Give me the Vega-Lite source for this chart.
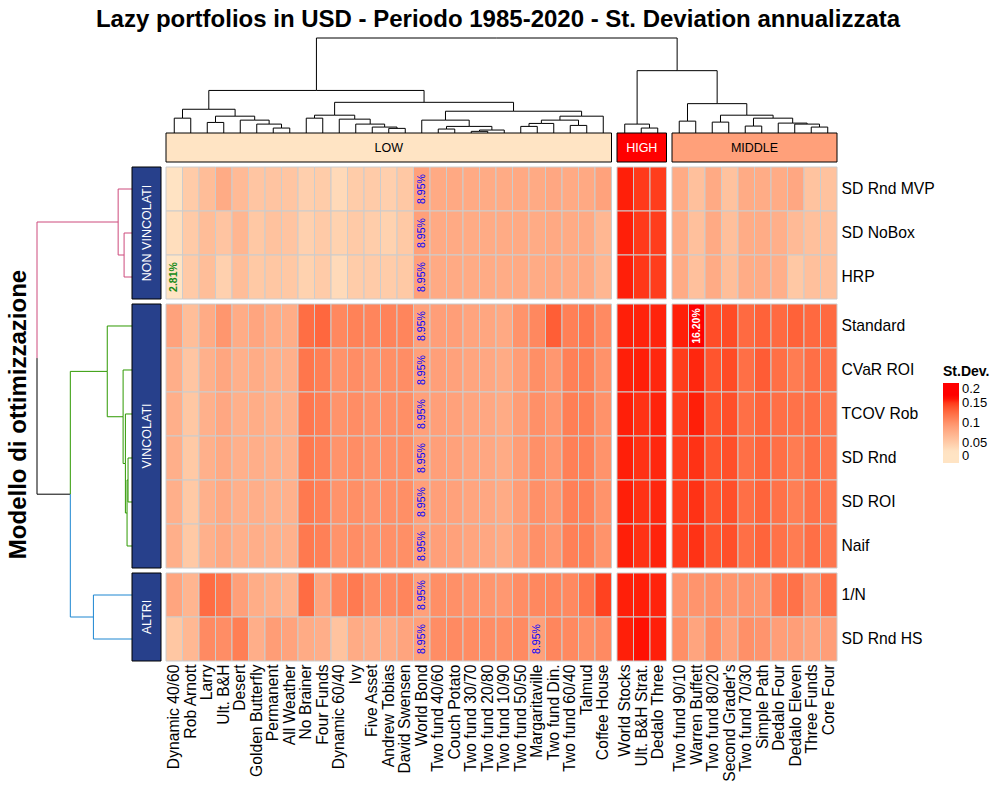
{
"$schema": "https://vega.github.io/schema/vega-lite/v6.json",
"background": "white",
"padding": {"left": 6, "top": 7, "right": 5, "bottom": 5},
"title": {"text": "Lazy portfolios in USD - Periodo 1985-2020 - St. Deviation annualizzata", "font": "Liberation Sans", "fontSize": 24, "fontWeight": "bold", "color": "#000000", "anchor": "middle", "offset": 6},
"config": {"view": {"stroke": null}, "font": "Liberation Sans"},
"datasets": {
"top": [
{"x":0.5,"h":0,"px":1.0,"ph":45},{"x":1.5,"h":0,"px":1.0,"ph":45},{"x":2.5,"h":0,"px":3.0,"ph":32},{"x":3.5,"h":0,"px":3.0,"ph":32},
{"x":4.5,"h":0,"px":5.375,"ph":39},{"x":5.5,"h":0,"px":6.25,"ph":27},{"x":6.5,"h":0,"px":7.0,"ph":15},{"x":7.5,"h":0,"px":7.0,"ph":15},
{"x":8.5,"h":0,"px":9.0,"ph":45},{"x":9.5,"h":0,"px":9.0,"ph":45},{"x":10.5,"h":0,"px":11.4375,"ph":42},{"x":11.5,"h":0,"px":12.375,"ph":27},
{"x":12.5,"h":0,"px":13.25,"ph":18},{"x":13.5,"h":0,"px":14.0,"ph":14},{"x":14.5,"h":0,"px":14.0,"ph":14},{"x":15.5,"h":0,"px":16.9375,"ph":39},
{"x":16.5,"h":0,"px":17.0,"ph":12},{"x":17.5,"h":0,"px":17.0,"ph":12},{"x":18.5,"h":0,"px":19.0,"ph":5},{"x":19.5,"h":0,"px":19.0,"ph":5},
{"x":20.5,"h":0,"px":19.75,"ph":9},{"x":21.5,"h":0,"px":22.0,"ph":20},{"x":22.5,"h":0,"px":22.0,"ph":20},{"x":23.5,"h":0,"px":22.75,"ph":29},
{"x":24.5,"h":0,"px":25.0,"ph":23},{"x":25.5,"h":0,"px":25.0,"ph":23},{"x":26.5,"h":0,"px":25.1875,"ph":51},
{"x":1.0,"h":45,"px":2.594,"ph":72},{"x":3.0,"h":32,"px":4.1875,"ph":51},{"x":7.0,"h":15,"px":6.25,"ph":27},{"x":6.25,"h":27,"px":5.375,"ph":39},
{"x":5.375,"h":39,"px":4.1875,"ph":51},{"x":4.1875,"h":51,"px":2.594,"ph":72},{"x":2.594,"h":72,"px":9.117,"ph":129},
{"x":9.0,"h":45,"px":10.219,"ph":54},{"x":14.0,"h":14,"px":13.25,"ph":18},{"x":13.25,"h":18,"px":12.375,"ph":27},{"x":12.375,"h":27,"px":11.4375,"ph":42},
{"x":11.4375,"h":42,"px":10.219,"ph":54},{"x":10.219,"h":54,"px":15.64,"ph":93},
{"x":17.0,"h":12,"px":18.375,"ph":20},{"x":19.0,"h":5,"px":19.75,"ph":9},{"x":19.75,"h":9,"px":18.375,"ph":20},{"x":18.375,"h":20,"px":16.9375,"ph":39},
{"x":16.9375,"h":39,"px":21.0625,"ph":66},{"x":22.0,"h":20,"px":22.75,"ph":29},{"x":22.75,"h":29,"px":23.875,"ph":39},{"x":25.0,"h":23,"px":23.875,"ph":39},
{"x":23.875,"h":39,"px":25.1875,"ph":51},{"x":25.1875,"h":51,"px":21.0625,"ph":66},{"x":21.0625,"h":66,"px":15.64,"ph":93},
{"x":15.64,"h":93,"px":9.117,"ph":129},{"x":9.117,"h":129,"px":20.048,"ph":288},
{"x":27.803,"h":0,"px":28.553,"ph":27},{"x":28.803,"h":0,"px":29.303,"ph":15},{"x":29.803,"h":0,"px":29.303,"ph":15},
{"x":29.303,"h":15,"px":28.553,"ph":27},{"x":28.553,"h":27,"px":30.978,"ph":189},
{"x":31.106,"h":0,"px":31.606,"ph":36},{"x":32.106,"h":0,"px":31.606,"ph":36},{"x":33.106,"h":0,"px":33.606,"ph":33},{"x":34.106,"h":0,"px":33.606,"ph":33},
{"x":35.106,"h":0,"px":35.606,"ph":21},{"x":36.106,"h":0,"px":35.606,"ph":21},{"x":37.106,"h":0,"px":37.981,"ph":30},{"x":38.106,"h":0,"px":38.856,"ph":27},
{"x":39.106,"h":0,"px":39.606,"ph":18},{"x":40.106,"h":0,"px":39.606,"ph":18},
{"x":39.606,"h":18,"px":38.856,"ph":27},{"x":38.856,"h":27,"px":37.981,"ph":30},{"x":37.981,"h":30,"px":36.794,"ph":45},{"x":35.606,"h":21,"px":36.794,"ph":45},
{"x":36.794,"h":45,"px":35.2,"ph":54},{"x":33.606,"h":33,"px":35.2,"ph":54},{"x":35.2,"h":54,"px":33.403,"ph":89},{"x":31.606,"h":36,"px":33.403,"ph":89},
{"x":33.403,"h":89,"px":30.978,"ph":189},{"x":30.978,"h":189,"px":20.048,"ph":288}
],
"left": [
{"p":1.5,"h":0,"pp":2.0,"ph":24,"c":"NON VINCOLATI"},{"p":2.5,"h":0,"pp":2.0,"ph":24,"c":"NON VINCOLATI"},
{"p":0.5,"h":0,"pp":1.25,"ph":42,"c":"NON VINCOLATI"},{"p":2.0,"h":24,"pp":1.25,"ph":42,"c":"NON VINCOLATI"},
{"p":1.25,"h":42,"pp":4.343,"ph":288,"c":"NON VINCOLATI"},
{"p":3.6136,"h":0,"pp":4.6449,"ph":75,"c":"VINCOLATI"},{"p":4.6136,"h":0,"pp":5.6761,"ph":27,"c":"VINCOLATI"},
{"p":5.6136,"h":0,"pp":6.7386,"ph":20,"c":"VINCOLATI"},{"p":6.6136,"h":0,"pp":7.1136,"ph":12,"c":"VINCOLATI"},
{"p":7.6136,"h":0,"pp":7.1136,"ph":12,"c":"VINCOLATI"},{"p":7.1136,"h":12,"pp":7.8636,"ph":15,"c":"VINCOLATI"},
{"p":8.6136,"h":0,"pp":7.8636,"ph":15,"c":"VINCOLATI"},{"p":7.8636,"h":15,"pp":6.7386,"ph":20,"c":"VINCOLATI"},
{"p":6.7386,"h":20,"pp":5.6761,"ph":27,"c":"VINCOLATI"},{"p":5.6761,"h":27,"pp":4.6449,"ph":75,"c":"VINCOLATI"},
{"p":4.6449,"h":75,"pp":7.4361,"ph":187,"c":"VINCOLATI"},
{"p":9.7273,"h":0,"pp":10.2273,"ph":117,"c":"ALTRI"},{"p":10.7273,"h":0,"pp":10.2273,"ph":117,"c":"ALTRI"},
{"p":10.2273,"h":117,"pp":7.4361,"ph":187,"c":"ALTRI"},
{"p":7.4361,"h":187,"pp":4.343,"ph":288,"c":"root"}
],
"sd": [
{"m":"SD Rnd MVP","p":"Dynamic 40/60","v":0.029},{"m":"SD Rnd MVP","p":"Rob Arnott","v":0.051},{"m":"SD Rnd MVP","p":"Larry","v":0.064},{"m":"SD Rnd MVP","p":"Ult. B&H","v":0.080},{"m":"SD Rnd MVP","p":"Desert","v":0.066},{"m":"SD Rnd MVP","p":"Golden Butterfly","v":0.056},{"m":"SD Rnd MVP","p":"Permanent","v":0.057},{"m":"SD Rnd MVP","p":"All Weather","v":0.056},{"m":"SD Rnd MVP","p":"No Brainer","v":0.047},{"m":"SD Rnd MVP","p":"Four Funds","v":0.050},{"m":"SD Rnd MVP","p":"Dynamic 60/40","v":0.038},{"m":"SD Rnd MVP","p":"Ivy","v":0.050},{"m":"SD Rnd MVP","p":"Five Asset","v":0.051},{"m":"SD Rnd MVP","p":"Andrew Tobias","v":0.047},{"m":"SD Rnd MVP","p":"David Swensen","v":0.054},{"m":"SD Rnd MVP","p":"World Bond","v":0.0895,"k":"med"},{"m":"SD Rnd MVP","p":"Two fund 40/60","v":0.081},{"m":"SD Rnd MVP","p":"Couch Potato","v":0.082},{"m":"SD Rnd MVP","p":"Two fund 30/70","v":0.081},{"m":"SD Rnd MVP","p":"Two fund 20/80","v":0.080},{"m":"SD Rnd MVP","p":"Two fund 10/90","v":0.080},{"m":"SD Rnd MVP","p":"Two fund 50/50","v":0.082},{"m":"SD Rnd MVP","p":"Margaritaville","v":0.081},{"m":"SD Rnd MVP","p":"Two fund Din.","v":0.083},{"m":"SD Rnd MVP","p":"Two fund 60/40","v":0.081},{"m":"SD Rnd MVP","p":"Talmud","v":0.082},{"m":"SD Rnd MVP","p":"Coffee House","v":0.088},{"m":"SD Rnd MVP","p":"World Stocks","v":0.158},{"m":"SD Rnd MVP","p":"Ult. B&H Strat.","v":0.150},{"m":"SD Rnd MVP","p":"Dedalo Three","v":0.149},{"m":"SD Rnd MVP","p":"Two fund 90/10","v":0.080},{"m":"SD Rnd MVP","p":"Warren Buffett","v":0.061},{"m":"SD Rnd MVP","p":"Two fund 80/20","v":0.081},{"m":"SD Rnd MVP","p":"Second Grader's","v":0.059},{"m":"SD Rnd MVP","p":"Two fund 70/30","v":0.080},{"m":"SD Rnd MVP","p":"Simple Path","v":0.079},{"m":"SD Rnd MVP","p":"Dedalo Four","v":0.079},{"m":"SD Rnd MVP","p":"Dedalo Eleven","v":0.083},{"m":"SD Rnd MVP","p":"Three Funds","v":0.058},{"m":"SD Rnd MVP","p":"Core Four","v":0.059},
{"m":"SD NoBox","p":"Dynamic 40/60","v":0.034},{"m":"SD NoBox","p":"Rob Arnott","v":0.052},{"m":"SD NoBox","p":"Larry","v":0.064},{"m":"SD NoBox","p":"Ult. B&H","v":0.057},{"m":"SD NoBox","p":"Desert","v":0.070},{"m":"SD NoBox","p":"Golden Butterfly","v":0.054},{"m":"SD NoBox","p":"Permanent","v":0.059},{"m":"SD NoBox","p":"All Weather","v":0.057},{"m":"SD NoBox","p":"No Brainer","v":0.046},{"m":"SD NoBox","p":"Four Funds","v":0.052},{"m":"SD NoBox","p":"Dynamic 60/40","v":0.045},{"m":"SD NoBox","p":"Ivy","v":0.052},{"m":"SD NoBox","p":"Five Asset","v":0.049},{"m":"SD NoBox","p":"Andrew Tobias","v":0.045},{"m":"SD NoBox","p":"David Swensen","v":0.053},{"m":"SD NoBox","p":"World Bond","v":0.0895,"k":"med"},{"m":"SD NoBox","p":"Two fund 40/60","v":0.081},{"m":"SD NoBox","p":"Couch Potato","v":0.081},{"m":"SD NoBox","p":"Two fund 30/70","v":0.080},{"m":"SD NoBox","p":"Two fund 20/80","v":0.080},{"m":"SD NoBox","p":"Two fund 10/90","v":0.080},{"m":"SD NoBox","p":"Two fund 50/50","v":0.081},{"m":"SD NoBox","p":"Margaritaville","v":0.080},{"m":"SD NoBox","p":"Two fund Din.","v":0.082},{"m":"SD NoBox","p":"Two fund 60/40","v":0.080},{"m":"SD NoBox","p":"Talmud","v":0.081},{"m":"SD NoBox","p":"Coffee House","v":0.069},{"m":"SD NoBox","p":"World Stocks","v":0.158},{"m":"SD NoBox","p":"Ult. B&H Strat.","v":0.150},{"m":"SD NoBox","p":"Dedalo Three","v":0.149},{"m":"SD NoBox","p":"Two fund 90/10","v":0.080},{"m":"SD NoBox","p":"Warren Buffett","v":0.061},{"m":"SD NoBox","p":"Two fund 80/20","v":0.081},{"m":"SD NoBox","p":"Second Grader's","v":0.062},{"m":"SD NoBox","p":"Two fund 70/30","v":0.079},{"m":"SD NoBox","p":"Simple Path","v":0.079},{"m":"SD NoBox","p":"Dedalo Four","v":0.076},{"m":"SD NoBox","p":"Dedalo Eleven","v":0.066},{"m":"SD NoBox","p":"Three Funds","v":0.061},{"m":"SD NoBox","p":"Core Four","v":0.061},
{"m":"HRP","p":"Dynamic 40/60","v":0.0281,"k":"min"},{"m":"HRP","p":"Rob Arnott","v":0.052},{"m":"HRP","p":"Larry","v":0.063},{"m":"HRP","p":"Ult. B&H","v":0.046},{"m":"HRP","p":"Desert","v":0.064},{"m":"HRP","p":"Golden Butterfly","v":0.053},{"m":"HRP","p":"Permanent","v":0.055},{"m":"HRP","p":"All Weather","v":0.054},{"m":"HRP","p":"No Brainer","v":0.045},{"m":"HRP","p":"Four Funds","v":0.051},{"m":"HRP","p":"Dynamic 60/40","v":0.037},{"m":"HRP","p":"Ivy","v":0.050},{"m":"HRP","p":"Five Asset","v":0.051},{"m":"HRP","p":"Andrew Tobias","v":0.050},{"m":"HRP","p":"David Swensen","v":0.053},{"m":"HRP","p":"World Bond","v":0.0895,"k":"med"},{"m":"HRP","p":"Two fund 40/60","v":0.081},{"m":"HRP","p":"Couch Potato","v":0.081},{"m":"HRP","p":"Two fund 30/70","v":0.080},{"m":"HRP","p":"Two fund 20/80","v":0.080},{"m":"HRP","p":"Two fund 10/90","v":0.079},{"m":"HRP","p":"Two fund 50/50","v":0.081},{"m":"HRP","p":"Margaritaville","v":0.080},{"m":"HRP","p":"Two fund Din.","v":0.082},{"m":"HRP","p":"Two fund 60/40","v":0.080},{"m":"HRP","p":"Talmud","v":0.081},{"m":"HRP","p":"Coffee House","v":0.070},{"m":"HRP","p":"World Stocks","v":0.158},{"m":"HRP","p":"Ult. B&H Strat.","v":0.151},{"m":"HRP","p":"Dedalo Three","v":0.149},{"m":"HRP","p":"Two fund 90/10","v":0.080},{"m":"HRP","p":"Warren Buffett","v":0.061},{"m":"HRP","p":"Two fund 80/20","v":0.080},{"m":"HRP","p":"Second Grader's","v":0.063},{"m":"HRP","p":"Two fund 70/30","v":0.079},{"m":"HRP","p":"Simple Path","v":0.079},{"m":"HRP","p":"Dedalo Four","v":0.076},{"m":"HRP","p":"Dedalo Eleven","v":0.054},{"m":"HRP","p":"Three Funds","v":0.061},{"m":"HRP","p":"Core Four","v":0.061},
{"m":"Standard","p":"Dynamic 40/60","v":0.088},{"m":"Standard","p":"Rob Arnott","v":0.063},{"m":"Standard","p":"Larry","v":0.080},{"m":"Standard","p":"Ult. B&H","v":0.097},{"m":"Standard","p":"Desert","v":0.079},{"m":"Standard","p":"Golden Butterfly","v":0.085},{"m":"Standard","p":"Permanent","v":0.079},{"m":"Standard","p":"All Weather","v":0.078},{"m":"Standard","p":"No Brainer","v":0.124},{"m":"Standard","p":"Four Funds","v":0.128},{"m":"Standard","p":"Dynamic 60/40","v":0.107},{"m":"Standard","p":"Ivy","v":0.111},{"m":"Standard","p":"Five Asset","v":0.109},{"m":"Standard","p":"Andrew Tobias","v":0.110},{"m":"Standard","p":"David Swensen","v":0.109},{"m":"Standard","p":"World Bond","v":0.0895,"k":"med"},{"m":"Standard","p":"Two fund 40/60","v":0.091},{"m":"Standard","p":"Couch Potato","v":0.091},{"m":"Standard","p":"Two fund 30/70","v":0.086},{"m":"Standard","p":"Two fund 20/80","v":0.084},{"m":"Standard","p":"Two fund 10/90","v":0.082},{"m":"Standard","p":"Two fund 50/50","v":0.099},{"m":"Standard","p":"Margaritaville","v":0.107},{"m":"Standard","p":"Two fund Din.","v":0.133},{"m":"Standard","p":"Two fund 60/40","v":0.112},{"m":"Standard","p":"Talmud","v":0.118},{"m":"Standard","p":"Coffee House","v":0.105},{"m":"Standard","p":"World Stocks","v":0.158},{"m":"Standard","p":"Ult. B&H Strat.","v":0.157},{"m":"Standard","p":"Dedalo Three","v":0.157},{"m":"Standard","p":"Two fund 90/10","v":0.158},{"m":"Standard","p":"Warren Buffett","v":0.162,"k":"max"},{"m":"Standard","p":"Two fund 80/20","v":0.142},{"m":"Standard","p":"Second Grader's","v":0.143},{"m":"Standard","p":"Two fund 70/30","v":0.126},{"m":"Standard","p":"Simple Path","v":0.131},{"m":"Standard","p":"Dedalo Four","v":0.126},{"m":"Standard","p":"Dedalo Eleven","v":0.131},{"m":"Standard","p":"Three Funds","v":0.127},{"m":"Standard","p":"Core Four","v":0.126},
{"m":"CVaR ROI","p":"Dynamic 40/60","v":0.077},{"m":"CVaR ROI","p":"Rob Arnott","v":0.056},{"m":"CVaR ROI","p":"Larry","v":0.075},{"m":"CVaR ROI","p":"Ult. B&H","v":0.084},{"m":"CVaR ROI","p":"Desert","v":0.075},{"m":"CVaR ROI","p":"Golden Butterfly","v":0.079},{"m":"CVaR ROI","p":"Permanent","v":0.075},{"m":"CVaR ROI","p":"All Weather","v":0.075},{"m":"CVaR ROI","p":"No Brainer","v":0.119},{"m":"CVaR ROI","p":"Four Funds","v":0.113},{"m":"CVaR ROI","p":"Dynamic 60/40","v":0.099},{"m":"CVaR ROI","p":"Ivy","v":0.103},{"m":"CVaR ROI","p":"Five Asset","v":0.099},{"m":"CVaR ROI","p":"Andrew Tobias","v":0.102},{"m":"CVaR ROI","p":"David Swensen","v":0.103},{"m":"CVaR ROI","p":"World Bond","v":0.0895,"k":"med"},{"m":"CVaR ROI","p":"Two fund 40/60","v":0.090},{"m":"CVaR ROI","p":"Couch Potato","v":0.089},{"m":"CVaR ROI","p":"Two fund 30/70","v":0.085},{"m":"CVaR ROI","p":"Two fund 20/80","v":0.083},{"m":"CVaR ROI","p":"Two fund 10/90","v":0.080},{"m":"CVaR ROI","p":"Two fund 50/50","v":0.092},{"m":"CVaR ROI","p":"Margaritaville","v":0.102},{"m":"CVaR ROI","p":"Two fund Din.","v":0.096},{"m":"CVaR ROI","p":"Two fund 60/40","v":0.112},{"m":"CVaR ROI","p":"Talmud","v":0.113},{"m":"CVaR ROI","p":"Coffee House","v":0.100},{"m":"CVaR ROI","p":"World Stocks","v":0.158},{"m":"CVaR ROI","p":"Ult. B&H Strat.","v":0.158},{"m":"CVaR ROI","p":"Dedalo Three","v":0.156},{"m":"CVaR ROI","p":"Two fund 90/10","v":0.149},{"m":"CVaR ROI","p":"Warren Buffett","v":0.156},{"m":"CVaR ROI","p":"Two fund 80/20","v":0.138},{"m":"CVaR ROI","p":"Second Grader's","v":0.143},{"m":"CVaR ROI","p":"Two fund 70/30","v":0.123},{"m":"CVaR ROI","p":"Simple Path","v":0.134},{"m":"CVaR ROI","p":"Dedalo Four","v":0.123},{"m":"CVaR ROI","p":"Dedalo Eleven","v":0.115},{"m":"CVaR ROI","p":"Three Funds","v":0.123},{"m":"CVaR ROI","p":"Core Four","v":0.121},
{"m":"TCOV Rob","p":"Dynamic 40/60","v":0.076},{"m":"TCOV Rob","p":"Rob Arnott","v":0.055},{"m":"TCOV Rob","p":"Larry","v":0.075},{"m":"TCOV Rob","p":"Ult. B&H","v":0.083},{"m":"TCOV Rob","p":"Desert","v":0.075},{"m":"TCOV Rob","p":"Golden Butterfly","v":0.078},{"m":"TCOV Rob","p":"Permanent","v":0.075},{"m":"TCOV Rob","p":"All Weather","v":0.075},{"m":"TCOV Rob","p":"No Brainer","v":0.118},{"m":"TCOV Rob","p":"Four Funds","v":0.113},{"m":"TCOV Rob","p":"Dynamic 60/40","v":0.099},{"m":"TCOV Rob","p":"Ivy","v":0.103},{"m":"TCOV Rob","p":"Five Asset","v":0.099},{"m":"TCOV Rob","p":"Andrew Tobias","v":0.101},{"m":"TCOV Rob","p":"David Swensen","v":0.102},{"m":"TCOV Rob","p":"World Bond","v":0.0895,"k":"med"},{"m":"TCOV Rob","p":"Two fund 40/60","v":0.090},{"m":"TCOV Rob","p":"Couch Potato","v":0.089},{"m":"TCOV Rob","p":"Two fund 30/70","v":0.085},{"m":"TCOV Rob","p":"Two fund 20/80","v":0.083},{"m":"TCOV Rob","p":"Two fund 10/90","v":0.080},{"m":"TCOV Rob","p":"Two fund 50/50","v":0.092},{"m":"TCOV Rob","p":"Margaritaville","v":0.101},{"m":"TCOV Rob","p":"Two fund Din.","v":0.096},{"m":"TCOV Rob","p":"Two fund 60/40","v":0.113},{"m":"TCOV Rob","p":"Talmud","v":0.113},{"m":"TCOV Rob","p":"Coffee House","v":0.100},{"m":"TCOV Rob","p":"World Stocks","v":0.158},{"m":"TCOV Rob","p":"Ult. B&H Strat.","v":0.153},{"m":"TCOV Rob","p":"Dedalo Three","v":0.157},{"m":"TCOV Rob","p":"Two fund 90/10","v":0.149},{"m":"TCOV Rob","p":"Warren Buffett","v":0.158},{"m":"TCOV Rob","p":"Two fund 80/20","v":0.138},{"m":"TCOV Rob","p":"Second Grader's","v":0.141},{"m":"TCOV Rob","p":"Two fund 70/30","v":0.123},{"m":"TCOV Rob","p":"Simple Path","v":0.130},{"m":"TCOV Rob","p":"Dedalo Four","v":0.123},{"m":"TCOV Rob","p":"Dedalo Eleven","v":0.121},{"m":"TCOV Rob","p":"Three Funds","v":0.123},{"m":"TCOV Rob","p":"Core Four","v":0.118},
{"m":"SD Rnd","p":"Dynamic 40/60","v":0.076},{"m":"SD Rnd","p":"Rob Arnott","v":0.053},{"m":"SD Rnd","p":"Larry","v":0.075},{"m":"SD Rnd","p":"Ult. B&H","v":0.082},{"m":"SD Rnd","p":"Desert","v":0.075},{"m":"SD Rnd","p":"Golden Butterfly","v":0.077},{"m":"SD Rnd","p":"Permanent","v":0.075},{"m":"SD Rnd","p":"All Weather","v":0.074},{"m":"SD Rnd","p":"No Brainer","v":0.117},{"m":"SD Rnd","p":"Four Funds","v":0.112},{"m":"SD Rnd","p":"Dynamic 60/40","v":0.099},{"m":"SD Rnd","p":"Ivy","v":0.103},{"m":"SD Rnd","p":"Five Asset","v":0.099},{"m":"SD Rnd","p":"Andrew Tobias","v":0.101},{"m":"SD Rnd","p":"David Swensen","v":0.102},{"m":"SD Rnd","p":"World Bond","v":0.0895,"k":"med"},{"m":"SD Rnd","p":"Two fund 40/60","v":0.090},{"m":"SD Rnd","p":"Couch Potato","v":0.089},{"m":"SD Rnd","p":"Two fund 30/70","v":0.085},{"m":"SD Rnd","p":"Two fund 20/80","v":0.083},{"m":"SD Rnd","p":"Two fund 10/90","v":0.080},{"m":"SD Rnd","p":"Two fund 50/50","v":0.092},{"m":"SD Rnd","p":"Margaritaville","v":0.101},{"m":"SD Rnd","p":"Two fund Din.","v":0.096},{"m":"SD Rnd","p":"Two fund 60/40","v":0.112},{"m":"SD Rnd","p":"Talmud","v":0.112},{"m":"SD Rnd","p":"Coffee House","v":0.099},{"m":"SD Rnd","p":"World Stocks","v":0.158},{"m":"SD Rnd","p":"Ult. B&H Strat.","v":0.153},{"m":"SD Rnd","p":"Dedalo Three","v":0.156},{"m":"SD Rnd","p":"Two fund 90/10","v":0.149},{"m":"SD Rnd","p":"Warren Buffett","v":0.153},{"m":"SD Rnd","p":"Two fund 80/20","v":0.138},{"m":"SD Rnd","p":"Second Grader's","v":0.141},{"m":"SD Rnd","p":"Two fund 70/30","v":0.123},{"m":"SD Rnd","p":"Simple Path","v":0.130},{"m":"SD Rnd","p":"Dedalo Four","v":0.123},{"m":"SD Rnd","p":"Dedalo Eleven","v":0.115},{"m":"SD Rnd","p":"Three Funds","v":0.123},{"m":"SD Rnd","p":"Core Four","v":0.118},
{"m":"SD ROI","p":"Dynamic 40/60","v":0.076},{"m":"SD ROI","p":"Rob Arnott","v":0.053},{"m":"SD ROI","p":"Larry","v":0.075},{"m":"SD ROI","p":"Ult. B&H","v":0.082},{"m":"SD ROI","p":"Desert","v":0.075},{"m":"SD ROI","p":"Golden Butterfly","v":0.077},{"m":"SD ROI","p":"Permanent","v":0.074},{"m":"SD ROI","p":"All Weather","v":0.074},{"m":"SD ROI","p":"No Brainer","v":0.117},{"m":"SD ROI","p":"Four Funds","v":0.112},{"m":"SD ROI","p":"Dynamic 60/40","v":0.099},{"m":"SD ROI","p":"Ivy","v":0.102},{"m":"SD ROI","p":"Five Asset","v":0.098},{"m":"SD ROI","p":"Andrew Tobias","v":0.101},{"m":"SD ROI","p":"David Swensen","v":0.102},{"m":"SD ROI","p":"World Bond","v":0.0895,"k":"med"},{"m":"SD ROI","p":"Two fund 40/60","v":0.090},{"m":"SD ROI","p":"Couch Potato","v":0.089},{"m":"SD ROI","p":"Two fund 30/70","v":0.085},{"m":"SD ROI","p":"Two fund 20/80","v":0.083},{"m":"SD ROI","p":"Two fund 10/90","v":0.080},{"m":"SD ROI","p":"Two fund 50/50","v":0.092},{"m":"SD ROI","p":"Margaritaville","v":0.101},{"m":"SD ROI","p":"Two fund Din.","v":0.096},{"m":"SD ROI","p":"Two fund 60/40","v":0.112},{"m":"SD ROI","p":"Talmud","v":0.112},{"m":"SD ROI","p":"Coffee House","v":0.099},{"m":"SD ROI","p":"World Stocks","v":0.158},{"m":"SD ROI","p":"Ult. B&H Strat.","v":0.153},{"m":"SD ROI","p":"Dedalo Three","v":0.156},{"m":"SD ROI","p":"Two fund 90/10","v":0.149},{"m":"SD ROI","p":"Warren Buffett","v":0.153},{"m":"SD ROI","p":"Two fund 80/20","v":0.138},{"m":"SD ROI","p":"Second Grader's","v":0.141},{"m":"SD ROI","p":"Two fund 70/30","v":0.123},{"m":"SD ROI","p":"Simple Path","v":0.130},{"m":"SD ROI","p":"Dedalo Four","v":0.121},{"m":"SD ROI","p":"Dedalo Eleven","v":0.113},{"m":"SD ROI","p":"Three Funds","v":0.121},{"m":"SD ROI","p":"Core Four","v":0.118},
{"m":"Naif","p":"Dynamic 40/60","v":0.076},{"m":"Naif","p":"Rob Arnott","v":0.053},{"m":"Naif","p":"Larry","v":0.075},{"m":"Naif","p":"Ult. B&H","v":0.082},{"m":"Naif","p":"Desert","v":0.075},{"m":"Naif","p":"Golden Butterfly","v":0.077},{"m":"Naif","p":"Permanent","v":0.075},{"m":"Naif","p":"All Weather","v":0.074},{"m":"Naif","p":"No Brainer","v":0.117},{"m":"Naif","p":"Four Funds","v":0.112},{"m":"Naif","p":"Dynamic 60/40","v":0.099},{"m":"Naif","p":"Ivy","v":0.103},{"m":"Naif","p":"Five Asset","v":0.099},{"m":"Naif","p":"Andrew Tobias","v":0.101},{"m":"Naif","p":"David Swensen","v":0.102},{"m":"Naif","p":"World Bond","v":0.0895,"k":"med"},{"m":"Naif","p":"Two fund 40/60","v":0.090},{"m":"Naif","p":"Couch Potato","v":0.089},{"m":"Naif","p":"Two fund 30/70","v":0.085},{"m":"Naif","p":"Two fund 20/80","v":0.083},{"m":"Naif","p":"Two fund 10/90","v":0.080},{"m":"Naif","p":"Two fund 50/50","v":0.092},{"m":"Naif","p":"Margaritaville","v":0.101},{"m":"Naif","p":"Two fund Din.","v":0.096},{"m":"Naif","p":"Two fund 60/40","v":0.112},{"m":"Naif","p":"Talmud","v":0.113},{"m":"Naif","p":"Coffee House","v":0.099},{"m":"Naif","p":"World Stocks","v":0.158},{"m":"Naif","p":"Ult. B&H Strat.","v":0.153},{"m":"Naif","p":"Dedalo Three","v":0.157},{"m":"Naif","p":"Two fund 90/10","v":0.149},{"m":"Naif","p":"Warren Buffett","v":0.153},{"m":"Naif","p":"Two fund 80/20","v":0.138},{"m":"Naif","p":"Second Grader's","v":0.141},{"m":"Naif","p":"Two fund 70/30","v":0.123},{"m":"Naif","p":"Simple Path","v":0.130},{"m":"Naif","p":"Dedalo Four","v":0.121},{"m":"Naif","p":"Dedalo Eleven","v":0.115},{"m":"Naif","p":"Three Funds","v":0.123},{"m":"Naif","p":"Core Four","v":0.118},
{"m":"1/N","p":"Dynamic 40/60","v":0.085},{"m":"1/N","p":"Rob Arnott","v":0.071},{"m":"1/N","p":"Larry","v":0.125},{"m":"1/N","p":"Ult. B&H","v":0.119},{"m":"1/N","p":"Desert","v":0.090},{"m":"1/N","p":"Golden Butterfly","v":0.078},{"m":"1/N","p":"Permanent","v":0.075},{"m":"1/N","p":"All Weather","v":0.072},{"m":"1/N","p":"No Brainer","v":0.125},{"m":"1/N","p":"Four Funds","v":0.087},{"m":"1/N","p":"Dynamic 60/40","v":0.108},{"m":"1/N","p":"Ivy","v":0.116},{"m":"1/N","p":"Five Asset","v":0.104},{"m":"1/N","p":"Andrew Tobias","v":0.105},{"m":"1/N","p":"David Swensen","v":0.109},{"m":"1/N","p":"World Bond","v":0.0895,"k":"med"},{"m":"1/N","p":"Two fund 40/60","v":0.102},{"m":"1/N","p":"Couch Potato","v":0.101},{"m":"1/N","p":"Two fund 30/70","v":0.098},{"m":"1/N","p":"Two fund 20/80","v":0.097},{"m":"1/N","p":"Two fund 10/90","v":0.095},{"m":"1/N","p":"Two fund 50/50","v":0.103},{"m":"1/N","p":"Margaritaville","v":0.107},{"m":"1/N","p":"Two fund Din.","v":0.108},{"m":"1/N","p":"Two fund 60/40","v":0.106},{"m":"1/N","p":"Talmud","v":0.119},{"m":"1/N","p":"Coffee House","v":0.147},{"m":"1/N","p":"World Stocks","v":0.158},{"m":"1/N","p":"Ult. B&H Strat.","v":0.158},{"m":"1/N","p":"Dedalo Three","v":0.157},{"m":"1/N","p":"Two fund 90/10","v":0.098},{"m":"1/N","p":"Warren Buffett","v":0.098},{"m":"1/N","p":"Two fund 80/20","v":0.100},{"m":"1/N","p":"Second Grader's","v":0.097},{"m":"1/N","p":"Two fund 70/30","v":0.098},{"m":"1/N","p":"Simple Path","v":0.097},{"m":"1/N","p":"Dedalo Four","v":0.118},{"m":"1/N","p":"Dedalo Eleven","v":0.121},{"m":"1/N","p":"Three Funds","v":0.101},{"m":"1/N","p":"Core Four","v":0.121},
{"m":"SD Rnd HS","p":"Dynamic 40/60","v":0.055},{"m":"SD Rnd HS","p":"Rob Arnott","v":0.068},{"m":"SD Rnd HS","p":"Larry","v":0.105},{"m":"SD Rnd HS","p":"Ult. B&H","v":0.103},{"m":"SD Rnd HS","p":"Desert","v":0.113},{"m":"SD Rnd HS","p":"Golden Butterfly","v":0.077},{"m":"SD Rnd HS","p":"Permanent","v":0.092},{"m":"SD Rnd HS","p":"All Weather","v":0.087},{"m":"SD Rnd HS","p":"No Brainer","v":0.080},{"m":"SD Rnd HS","p":"Four Funds","v":0.077},{"m":"SD Rnd HS","p":"Dynamic 60/40","v":0.058},{"m":"SD Rnd HS","p":"Ivy","v":0.080},{"m":"SD Rnd HS","p":"Five Asset","v":0.077},{"m":"SD Rnd HS","p":"Andrew Tobias","v":0.080},{"m":"SD Rnd HS","p":"David Swensen","v":0.086},{"m":"SD Rnd HS","p":"World Bond","v":0.0895,"k":"med"},{"m":"SD Rnd HS","p":"Two fund 40/60","v":0.103},{"m":"SD Rnd HS","p":"Couch Potato","v":0.105},{"m":"SD Rnd HS","p":"Two fund 30/70","v":0.104},{"m":"SD Rnd HS","p":"Two fund 20/80","v":0.103},{"m":"SD Rnd HS","p":"Two fund 10/90","v":0.102},{"m":"SD Rnd HS","p":"Two fund 50/50","v":0.105},{"m":"SD Rnd HS","p":"Margaritaville","v":0.0895,"k":"med"},{"m":"SD Rnd HS","p":"Two fund Din.","v":0.108},{"m":"SD Rnd HS","p":"Two fund 60/40","v":0.106},{"m":"SD Rnd HS","p":"Talmud","v":0.102},{"m":"SD Rnd HS","p":"Coffee House","v":0.105},{"m":"SD Rnd HS","p":"World Stocks","v":0.158},{"m":"SD Rnd HS","p":"Ult. B&H Strat.","v":0.1605},{"m":"SD Rnd HS","p":"Dedalo Three","v":0.158},{"m":"SD Rnd HS","p":"Two fund 90/10","v":0.102},{"m":"SD Rnd HS","p":"Warren Buffett","v":0.086},{"m":"SD Rnd HS","p":"Two fund 80/20","v":0.102},{"m":"SD Rnd HS","p":"Second Grader's","v":0.088},{"m":"SD Rnd HS","p":"Two fund 70/30","v":0.101},{"m":"SD Rnd HS","p":"Simple Path","v":0.098},{"m":"SD Rnd HS","p":"Dedalo Four","v":0.091},{"m":"SD Rnd HS","p":"Dedalo Eleven","v":0.091},{"m":"SD Rnd HS","p":"Three Funds","v":0.086},{"m":"SD Rnd HS","p":"Core Four","v":0.091}
]
},
"columns": 5,
"spacing": 5,
"bounds": "flush",
"align": "each",
"concat": [
{"width": 1, "height": 1, "data": {"values": []}, "mark": "point"},
{"width": 1, "height": 1, "data": {"values": []}, "mark": "point"},
{"width": 445.5, "height": 90, "data": {"name": "top"},
 "layer": [
  {"mark": {"type": "rule", "color": "#000000", "strokeWidth": 1},
   "encoding": {"x": {"field": "x", "type": "quantitative", "scale": {"domain": [0, 27], "nice": false, "zero": false}, "axis": null},
                "y": {"field": "h", "type": "quantitative", "scale": {"domain": [15.16, 288], "nice": false, "zero": false}, "axis": null},
                "y2": {"field": "ph"}}},
  {"mark": {"type": "rule", "color": "#000000", "strokeWidth": 1},
   "encoding": {"x": {"field": "x", "type": "quantitative", "scale": {"domain": [0, 27], "nice": false, "zero": false}, "axis": null},
                "x2": {"field": "px"},
                "y": {"field": "ph", "type": "quantitative", "scale": {"domain": [15.16, 288], "nice": false, "zero": false}, "axis": null}}}
 ]},
{"width": 1, "height": 1, "data": {"values": []}, "mark": "point"},
{"width": 1, "height": 1, "data": {"values": []}, "mark": "point"},

{"width": 1, "height": 1, "data": {"values": []}, "mark": "point"},
{"width": 1, "height": 1, "data": {"values": []}, "mark": "point"},
{"width": 445.5, "height": 29, "data": {"values": [{"g": "LOW"}]},
 "layer": [{"mark": {"type": "rect", "fill": "#FFE4C4", "stroke": "#000000", "strokeWidth": 1}, "encoding": {}},
           {"mark": {"type": "text", "color": "#000000", "fontSize": 12.5, "font": "Liberation Sans"}, "encoding": {"text": {"field": "g"}}}]},
{"width": 49.5, "height": 29, "data": {"values": [{"g": "HIGH"}]},
 "layer": [{"mark": {"type": "rect", "fill": "#FF0000", "stroke": "#000000", "strokeWidth": 1}, "encoding": {}},
           {"mark": {"type": "text", "color": "#FFFFFF", "fontSize": 12.5, "font": "Liberation Sans"}, "encoding": {"text": {"field": "g"}}}]},
{"width": 165, "height": 29, "data": {"values": [{"g": "MIDDLE"}]},
 "layer": [{"mark": {"type": "rect", "fill": "#FFA07A", "stroke": "#000000", "strokeWidth": 1}, "encoding": {}},
           {"mark": {"type": "text", "color": "#000000", "fontSize": 12.5, "font": "Liberation Sans"}, "encoding": {"text": {"field": "g"}}}]},

{"width": 90, "height": 132, "data": {"name": "left"},
 "layer": [
  {"mark": {"type": "rule", "strokeWidth": 1},
   "encoding": {"y": {"field": "p", "type": "quantitative", "scale": {"domain": [0, 3], "reverse": true, "nice": false, "zero": false}, "axis": {"title": "Modello di ottimizzazione", "titleFont": "Liberation Sans", "titleFontSize": 24, "titleFontWeight": "bold", "titleColor": "#000000", "titlePadding": 7, "titleY": 247, "labels": false, "ticks": false, "domain": false, "grid": false}},
                "x": {"field": "h", "type": "quantitative", "scale": {"domain": [15.16, 288], "reverse": true, "nice": false, "zero": false}, "axis": null},
                "x2": {"field": "ph"},
                "color": {"field": "c", "type": "nominal", "scale": {"domain": ["NON VINCOLATI", "VINCOLATI", "ALTRI", "root"], "range": ["#CD4A7C", "#2E9900", "#1C86D1", "#000000"]}, "legend": null}}},
  {"mark": {"type": "rule", "strokeWidth": 1},
   "encoding": {"x": {"field": "ph", "type": "quantitative", "scale": {"domain": [15.16, 288], "reverse": true, "nice": false, "zero": false}, "axis": null},
                "y": {"field": "p", "type": "quantitative", "scale": {"domain": [0, 3], "reverse": true, "nice": false, "zero": false}, "axis": {"title": "Modello di ottimizzazione", "titleFont": "Liberation Sans", "titleFontSize": 24, "titleFontWeight": "bold", "titleColor": "#000000", "titlePadding": 7, "titleY": 247, "labels": false, "ticks": false, "domain": false, "grid": false}},
                "y2": {"field": "pp"},
                "color": {"field": "c", "type": "nominal", "scale": {"domain": ["NON VINCOLATI", "VINCOLATI", "ALTRI", "root"], "range": ["#CD4A7C", "#2E9900", "#1C86D1", "#000000"]}, "legend": null}}}
 ]},
{"width": 29, "height": 132, "data": {"values": [{"g": "NON VINCOLATI"}]},
 "layer": [{"mark": {"type": "rect", "fill": "#27408B", "stroke": "#000000", "strokeWidth": 1}, "encoding": {}},
           {"mark": {"type": "text", "angle": 270, "color": "#FFFFFF", "fontSize": 12.5, "font": "Liberation Sans"}, "encoding": {"text": {"field": "g"}}}]},
{"width": 445.5, "height": 132, "data": {"name": "sd"},
 "transform": [{"filter": {"field": "m", "oneOf": ["SD Rnd MVP","SD NoBox","HRP"]}}, {"filter": {"field": "p", "oneOf": ["Dynamic 40/60","Rob Arnott","Larry","Ult. B&H","Desert","Golden Butterfly","Permanent","All Weather","No Brainer","Four Funds","Dynamic 60/40","Ivy","Five Asset","Andrew Tobias","David Swensen","World Bond","Two fund 40/60","Couch Potato","Two fund 30/70","Two fund 20/80","Two fund 10/90","Two fund 50/50","Margaritaville","Two fund Din.","Two fund 60/40","Talmud","Coffee House"]}}],
 "encoding": {"x": {"field": "p", "type": "nominal", "sort": ["Dynamic 40/60","Rob Arnott","Larry","Ult. B&H","Desert","Golden Butterfly","Permanent","All Weather","No Brainer","Four Funds","Dynamic 60/40","Ivy","Five Asset","Andrew Tobias","David Swensen","World Bond","Two fund 40/60","Couch Potato","Two fund 30/70","Two fund 20/80","Two fund 10/90","Two fund 50/50","Margaritaville","Two fund Din.","Two fund 60/40","Talmud","Coffee House"], "scale": {"paddingInner": 0, "paddingOuter": 0}, "axis": null},
              "y": {"field": "m", "type": "nominal", "sort": ["SD Rnd MVP","SD NoBox","HRP"], "scale": {"paddingInner": 0, "paddingOuter": 0}, "axis": null}},
 "layer": [
  {"mark": {"type": "rect", "stroke": "#CCCCCC", "strokeWidth": 1}, "encoding": {"fill": {"field": "v", "type": "quantitative", "scale": {"domain": [0, 0.0281, 0.0895, 0.162, 0.2], "range": ["#FFE4C4", "#FFE4C4", "#FFA07A", "#FF0000", "#FF0000"], "interpolate": "lab"}, "legend": {"orient": "none", "legendX": 906, "legendY": 327, "direction": "vertical", "title": "St.Dev.", "titleFont": "Liberation Sans", "titleFontSize": 14, "titleFontWeight": "bold", "titleColor": "#000000", "titlePadding": 4, "gradientLength": 80, "gradientThickness": 16, "gradientStrokeWidth": 0, "labelFont": "Liberation Sans", "labelFontSize": 13, "labelColor": "#000000", "labelOffset": 3, "values": [0, 0.05, 0.1, 0.15, 0.2], "labelExpr": "format(datum.value, '.2~f')", "padding": 0}}}},
  {"transform": [{"filter": "datum.k === 'med'"}], "mark": {"type": "text", "angle": 270, "fontSize": 10.5, "font": "Liberation Sans", "color": "#0000FF"}, "encoding": {"text": {"field": "v", "format": ".2%"}}},
  {"transform": [{"filter": "datum.k === 'min' || datum.k === 'max'"}], "mark": {"type": "text", "angle": 270, "fontSize": 10.5, "fontWeight": "bold", "font": "Liberation Sans"}, "encoding": {"text": {"field": "v", "format": ".2%"}, "color": {"condition": {"test": "datum.k === 'min'", "value": "#178A17"}, "value": "#FFFFFF"}}}
 ]},
{"width": 49.5, "height": 132, "data": {"name": "sd"},
 "transform": [{"filter": {"field": "m", "oneOf": ["SD Rnd MVP","SD NoBox","HRP"]}}, {"filter": {"field": "p", "oneOf": ["World Stocks","Ult. B&H Strat.","Dedalo Three"]}}],
 "encoding": {"x": {"field": "p", "type": "nominal", "sort": ["World Stocks","Ult. B&H Strat.","Dedalo Three"], "scale": {"paddingInner": 0, "paddingOuter": 0}, "axis": null},
              "y": {"field": "m", "type": "nominal", "sort": ["SD Rnd MVP","SD NoBox","HRP"], "scale": {"paddingInner": 0, "paddingOuter": 0}, "axis": null}},
 "layer": [
  {"mark": {"type": "rect", "stroke": "#CCCCCC", "strokeWidth": 1}, "encoding": {"fill": {"field": "v", "type": "quantitative", "scale": {"domain": [0, 0.0281, 0.0895, 0.162, 0.2], "range": ["#FFE4C4", "#FFE4C4", "#FFA07A", "#FF0000", "#FF0000"], "interpolate": "lab"}, "legend": {"orient": "none", "legendX": 906, "legendY": 327, "direction": "vertical", "title": "St.Dev.", "titleFont": "Liberation Sans", "titleFontSize": 14, "titleFontWeight": "bold", "titleColor": "#000000", "titlePadding": 4, "gradientLength": 80, "gradientThickness": 16, "gradientStrokeWidth": 0, "labelFont": "Liberation Sans", "labelFontSize": 13, "labelColor": "#000000", "labelOffset": 3, "values": [0, 0.05, 0.1, 0.15, 0.2], "labelExpr": "format(datum.value, '.2~f')", "padding": 0}}}}
 ]},
{"width": 165, "height": 132, "data": {"name": "sd"},
 "transform": [{"filter": {"field": "m", "oneOf": ["SD Rnd MVP","SD NoBox","HRP"]}}, {"filter": {"field": "p", "oneOf": ["Two fund 90/10","Warren Buffett","Two fund 80/20","Second Grader's","Two fund 70/30","Simple Path","Dedalo Four","Dedalo Eleven","Three Funds","Core Four"]}}],
 "encoding": {"x": {"field": "p", "type": "nominal", "sort": ["Two fund 90/10","Warren Buffett","Two fund 80/20","Second Grader's","Two fund 70/30","Simple Path","Dedalo Four","Dedalo Eleven","Three Funds","Core Four"], "scale": {"paddingInner": 0, "paddingOuter": 0}, "axis": null},
              "y": {"field": "m", "type": "nominal", "sort": ["SD Rnd MVP","SD NoBox","HRP"], "scale": {"paddingInner": 0, "paddingOuter": 0}, "axis": {"orient": "right", "title": null, "ticks": false, "domain": false, "labelPadding": 4, "labelFont": "Liberation Sans", "labelFontSize": 15.7, "labelColor": "#000000"}}},
 "layer": [
  {"mark": {"type": "rect", "stroke": "#CCCCCC", "strokeWidth": 1}, "encoding": {"fill": {"field": "v", "type": "quantitative", "scale": {"domain": [0, 0.0281, 0.0895, 0.162, 0.2], "range": ["#FFE4C4", "#FFE4C4", "#FFA07A", "#FF0000", "#FF0000"], "interpolate": "lab"}, "legend": {"orient": "none", "legendX": 906, "legendY": 327, "direction": "vertical", "title": "St.Dev.", "titleFont": "Liberation Sans", "titleFontSize": 14, "titleFontWeight": "bold", "titleColor": "#000000", "titlePadding": 4, "gradientLength": 80, "gradientThickness": 16, "gradientStrokeWidth": 0, "labelFont": "Liberation Sans", "labelFontSize": 13, "labelColor": "#000000", "labelOffset": 3, "values": [0, 0.05, 0.1, 0.15, 0.2], "labelExpr": "format(datum.value, '.2~f')", "padding": 0}}}}
 ]},

{"width": 1, "height": 1, "data": {"values": []}, "mark": "point"},
{"width": 29, "height": 264, "data": {"values": [{"g": "VINCOLATI"}]},
 "layer": [{"mark": {"type": "rect", "fill": "#27408B", "stroke": "#000000", "strokeWidth": 1}, "encoding": {}},
           {"mark": {"type": "text", "angle": 270, "color": "#FFFFFF", "fontSize": 12.5, "font": "Liberation Sans"}, "encoding": {"text": {"field": "g"}}}]},
{"width": 445.5, "height": 264, "data": {"name": "sd"},
 "transform": [{"filter": {"field": "m", "oneOf": ["Standard","CVaR ROI","TCOV Rob","SD Rnd","SD ROI","Naif"]}}, {"filter": {"field": "p", "oneOf": ["Dynamic 40/60","Rob Arnott","Larry","Ult. B&H","Desert","Golden Butterfly","Permanent","All Weather","No Brainer","Four Funds","Dynamic 60/40","Ivy","Five Asset","Andrew Tobias","David Swensen","World Bond","Two fund 40/60","Couch Potato","Two fund 30/70","Two fund 20/80","Two fund 10/90","Two fund 50/50","Margaritaville","Two fund Din.","Two fund 60/40","Talmud","Coffee House"]}}],
 "encoding": {"x": {"field": "p", "type": "nominal", "sort": ["Dynamic 40/60","Rob Arnott","Larry","Ult. B&H","Desert","Golden Butterfly","Permanent","All Weather","No Brainer","Four Funds","Dynamic 60/40","Ivy","Five Asset","Andrew Tobias","David Swensen","World Bond","Two fund 40/60","Couch Potato","Two fund 30/70","Two fund 20/80","Two fund 10/90","Two fund 50/50","Margaritaville","Two fund Din.","Two fund 60/40","Talmud","Coffee House"], "scale": {"paddingInner": 0, "paddingOuter": 0}, "axis": null},
              "y": {"field": "m", "type": "nominal", "sort": ["Standard","CVaR ROI","TCOV Rob","SD Rnd","SD ROI","Naif"], "scale": {"paddingInner": 0, "paddingOuter": 0}, "axis": null}},
 "layer": [
  {"mark": {"type": "rect", "stroke": "#CCCCCC", "strokeWidth": 1}, "encoding": {"fill": {"field": "v", "type": "quantitative", "scale": {"domain": [0, 0.0281, 0.0895, 0.162, 0.2], "range": ["#FFE4C4", "#FFE4C4", "#FFA07A", "#FF0000", "#FF0000"], "interpolate": "lab"}, "legend": {"orient": "none", "legendX": 906, "legendY": 327, "direction": "vertical", "title": "St.Dev.", "titleFont": "Liberation Sans", "titleFontSize": 14, "titleFontWeight": "bold", "titleColor": "#000000", "titlePadding": 4, "gradientLength": 80, "gradientThickness": 16, "gradientStrokeWidth": 0, "labelFont": "Liberation Sans", "labelFontSize": 13, "labelColor": "#000000", "labelOffset": 3, "values": [0, 0.05, 0.1, 0.15, 0.2], "labelExpr": "format(datum.value, '.2~f')", "padding": 0}}}},
  {"transform": [{"filter": "datum.k === 'med'"}], "mark": {"type": "text", "angle": 270, "fontSize": 10.5, "font": "Liberation Sans", "color": "#0000FF"}, "encoding": {"text": {"field": "v", "format": ".2%"}}}
 ]},
{"width": 49.5, "height": 264, "data": {"name": "sd"},
 "transform": [{"filter": {"field": "m", "oneOf": ["Standard","CVaR ROI","TCOV Rob","SD Rnd","SD ROI","Naif"]}}, {"filter": {"field": "p", "oneOf": ["World Stocks","Ult. B&H Strat.","Dedalo Three"]}}],
 "encoding": {"x": {"field": "p", "type": "nominal", "sort": ["World Stocks","Ult. B&H Strat.","Dedalo Three"], "scale": {"paddingInner": 0, "paddingOuter": 0}, "axis": null},
              "y": {"field": "m", "type": "nominal", "sort": ["Standard","CVaR ROI","TCOV Rob","SD Rnd","SD ROI","Naif"], "scale": {"paddingInner": 0, "paddingOuter": 0}, "axis": null}},
 "layer": [
  {"mark": {"type": "rect", "stroke": "#CCCCCC", "strokeWidth": 1}, "encoding": {"fill": {"field": "v", "type": "quantitative", "scale": {"domain": [0, 0.0281, 0.0895, 0.162, 0.2], "range": ["#FFE4C4", "#FFE4C4", "#FFA07A", "#FF0000", "#FF0000"], "interpolate": "lab"}, "legend": {"orient": "none", "legendX": 906, "legendY": 327, "direction": "vertical", "title": "St.Dev.", "titleFont": "Liberation Sans", "titleFontSize": 14, "titleFontWeight": "bold", "titleColor": "#000000", "titlePadding": 4, "gradientLength": 80, "gradientThickness": 16, "gradientStrokeWidth": 0, "labelFont": "Liberation Sans", "labelFontSize": 13, "labelColor": "#000000", "labelOffset": 3, "values": [0, 0.05, 0.1, 0.15, 0.2], "labelExpr": "format(datum.value, '.2~f')", "padding": 0}}}}
 ]},
{"width": 165, "height": 264, "data": {"name": "sd"},
 "transform": [{"filter": {"field": "m", "oneOf": ["Standard","CVaR ROI","TCOV Rob","SD Rnd","SD ROI","Naif"]}}, {"filter": {"field": "p", "oneOf": ["Two fund 90/10","Warren Buffett","Two fund 80/20","Second Grader's","Two fund 70/30","Simple Path","Dedalo Four","Dedalo Eleven","Three Funds","Core Four"]}}],
 "encoding": {"x": {"field": "p", "type": "nominal", "sort": ["Two fund 90/10","Warren Buffett","Two fund 80/20","Second Grader's","Two fund 70/30","Simple Path","Dedalo Four","Dedalo Eleven","Three Funds","Core Four"], "scale": {"paddingInner": 0, "paddingOuter": 0}, "axis": null},
              "y": {"field": "m", "type": "nominal", "sort": ["Standard","CVaR ROI","TCOV Rob","SD Rnd","SD ROI","Naif"], "scale": {"paddingInner": 0, "paddingOuter": 0}, "axis": {"orient": "right", "title": null, "ticks": false, "domain": false, "labelPadding": 4, "labelFont": "Liberation Sans", "labelFontSize": 15.7, "labelColor": "#000000"}}},
 "layer": [
  {"mark": {"type": "rect", "stroke": "#CCCCCC", "strokeWidth": 1}, "encoding": {"fill": {"field": "v", "type": "quantitative", "scale": {"domain": [0, 0.0281, 0.0895, 0.162, 0.2], "range": ["#FFE4C4", "#FFE4C4", "#FFA07A", "#FF0000", "#FF0000"], "interpolate": "lab"}, "legend": {"orient": "none", "legendX": 906, "legendY": 327, "direction": "vertical", "title": "St.Dev.", "titleFont": "Liberation Sans", "titleFontSize": 14, "titleFontWeight": "bold", "titleColor": "#000000", "titlePadding": 4, "gradientLength": 80, "gradientThickness": 16, "gradientStrokeWidth": 0, "labelFont": "Liberation Sans", "labelFontSize": 13, "labelColor": "#000000", "labelOffset": 3, "values": [0, 0.05, 0.1, 0.15, 0.2], "labelExpr": "format(datum.value, '.2~f')", "padding": 0}}}},
  {"transform": [{"filter": "datum.k === 'min' || datum.k === 'max'"}], "mark": {"type": "text", "angle": 270, "fontSize": 10.5, "fontWeight": "bold", "font": "Liberation Sans"}, "encoding": {"text": {"field": "v", "format": ".2%"}, "color": {"condition": {"test": "datum.k === 'min'", "value": "#178A17"}, "value": "#FFFFFF"}}}
 ]},

{"width": 1, "height": 1, "data": {"values": []}, "mark": "point"},
{"width": 29, "height": 88, "data": {"values": [{"g": "ALTRI"}]},
 "layer": [{"mark": {"type": "rect", "fill": "#27408B", "stroke": "#000000", "strokeWidth": 1}, "encoding": {}},
           {"mark": {"type": "text", "angle": 270, "color": "#FFFFFF", "fontSize": 12.5, "font": "Liberation Sans"}, "encoding": {"text": {"field": "g"}}}]},
{"width": 445.5, "height": 88, "data": {"name": "sd"},
 "transform": [{"filter": {"field": "m", "oneOf": ["1/N","SD Rnd HS"]}}, {"filter": {"field": "p", "oneOf": ["Dynamic 40/60","Rob Arnott","Larry","Ult. B&H","Desert","Golden Butterfly","Permanent","All Weather","No Brainer","Four Funds","Dynamic 60/40","Ivy","Five Asset","Andrew Tobias","David Swensen","World Bond","Two fund 40/60","Couch Potato","Two fund 30/70","Two fund 20/80","Two fund 10/90","Two fund 50/50","Margaritaville","Two fund Din.","Two fund 60/40","Talmud","Coffee House"]}}],
 "encoding": {"x": {"field": "p", "type": "nominal", "sort": ["Dynamic 40/60","Rob Arnott","Larry","Ult. B&H","Desert","Golden Butterfly","Permanent","All Weather","No Brainer","Four Funds","Dynamic 60/40","Ivy","Five Asset","Andrew Tobias","David Swensen","World Bond","Two fund 40/60","Couch Potato","Two fund 30/70","Two fund 20/80","Two fund 10/90","Two fund 50/50","Margaritaville","Two fund Din.","Two fund 60/40","Talmud","Coffee House"], "scale": {"paddingInner": 0, "paddingOuter": 0}, "axis": {"orient": "bottom", "title": null, "labelAngle": -90, "ticks": false, "domain": false, "labelPadding": 3, "labelFont": "Liberation Sans", "labelFontSize": 15.7, "labelColor": "#000000", "labelOverlap": false, "labelLimit": 300}},
              "y": {"field": "m", "type": "nominal", "sort": ["1/N","SD Rnd HS"], "scale": {"paddingInner": 0, "paddingOuter": 0}, "axis": null}},
 "layer": [
  {"mark": {"type": "rect", "stroke": "#CCCCCC", "strokeWidth": 1}, "encoding": {"fill": {"field": "v", "type": "quantitative", "scale": {"domain": [0, 0.0281, 0.0895, 0.162, 0.2], "range": ["#FFE4C4", "#FFE4C4", "#FFA07A", "#FF0000", "#FF0000"], "interpolate": "lab"}, "legend": {"orient": "none", "legendX": 906, "legendY": 327, "direction": "vertical", "title": "St.Dev.", "titleFont": "Liberation Sans", "titleFontSize": 14, "titleFontWeight": "bold", "titleColor": "#000000", "titlePadding": 4, "gradientLength": 80, "gradientThickness": 16, "gradientStrokeWidth": 0, "labelFont": "Liberation Sans", "labelFontSize": 13, "labelColor": "#000000", "labelOffset": 3, "values": [0, 0.05, 0.1, 0.15, 0.2], "labelExpr": "format(datum.value, '.2~f')", "padding": 0}}}},
  {"transform": [{"filter": "datum.k === 'med'"}], "mark": {"type": "text", "angle": 270, "fontSize": 10.5, "font": "Liberation Sans", "color": "#0000FF"}, "encoding": {"text": {"field": "v", "format": ".2%"}}}
 ]},
{"width": 49.5, "height": 88, "data": {"name": "sd"},
 "transform": [{"filter": {"field": "m", "oneOf": ["1/N","SD Rnd HS"]}}, {"filter": {"field": "p", "oneOf": ["World Stocks","Ult. B&H Strat.","Dedalo Three"]}}],
 "encoding": {"x": {"field": "p", "type": "nominal", "sort": ["World Stocks","Ult. B&H Strat.","Dedalo Three"], "scale": {"paddingInner": 0, "paddingOuter": 0}, "axis": {"orient": "bottom", "title": null, "labelAngle": -90, "ticks": false, "domain": false, "labelPadding": 3, "labelFont": "Liberation Sans", "labelFontSize": 15.7, "labelColor": "#000000", "labelOverlap": false, "labelLimit": 300}},
              "y": {"field": "m", "type": "nominal", "sort": ["1/N","SD Rnd HS"], "scale": {"paddingInner": 0, "paddingOuter": 0}, "axis": null}},
 "layer": [
  {"mark": {"type": "rect", "stroke": "#CCCCCC", "strokeWidth": 1}, "encoding": {"fill": {"field": "v", "type": "quantitative", "scale": {"domain": [0, 0.0281, 0.0895, 0.162, 0.2], "range": ["#FFE4C4", "#FFE4C4", "#FFA07A", "#FF0000", "#FF0000"], "interpolate": "lab"}, "legend": {"orient": "none", "legendX": 906, "legendY": 327, "direction": "vertical", "title": "St.Dev.", "titleFont": "Liberation Sans", "titleFontSize": 14, "titleFontWeight": "bold", "titleColor": "#000000", "titlePadding": 4, "gradientLength": 80, "gradientThickness": 16, "gradientStrokeWidth": 0, "labelFont": "Liberation Sans", "labelFontSize": 13, "labelColor": "#000000", "labelOffset": 3, "values": [0, 0.05, 0.1, 0.15, 0.2], "labelExpr": "format(datum.value, '.2~f')", "padding": 0}}}}
 ]},
{"width": 165, "height": 88, "data": {"name": "sd"},
 "transform": [{"filter": {"field": "m", "oneOf": ["1/N","SD Rnd HS"]}}, {"filter": {"field": "p", "oneOf": ["Two fund 90/10","Warren Buffett","Two fund 80/20","Second Grader's","Two fund 70/30","Simple Path","Dedalo Four","Dedalo Eleven","Three Funds","Core Four"]}}],
 "encoding": {"x": {"field": "p", "type": "nominal", "sort": ["Two fund 90/10","Warren Buffett","Two fund 80/20","Second Grader's","Two fund 70/30","Simple Path","Dedalo Four","Dedalo Eleven","Three Funds","Core Four"], "scale": {"paddingInner": 0, "paddingOuter": 0}, "axis": {"orient": "bottom", "title": null, "labelAngle": -90, "ticks": false, "domain": false, "labelPadding": 3, "labelFont": "Liberation Sans", "labelFontSize": 15.7, "labelColor": "#000000", "labelOverlap": false, "labelLimit": 300}},
              "y": {"field": "m", "type": "nominal", "sort": ["1/N","SD Rnd HS"], "scale": {"paddingInner": 0, "paddingOuter": 0}, "axis": {"orient": "right", "title": null, "ticks": false, "domain": false, "labelPadding": 4, "labelFont": "Liberation Sans", "labelFontSize": 15.7, "labelColor": "#000000"}}},
 "layer": [
  {"mark": {"type": "rect", "stroke": "#CCCCCC", "strokeWidth": 1}, "encoding": {"fill": {"field": "v", "type": "quantitative", "scale": {"domain": [0, 0.0281, 0.0895, 0.162, 0.2], "range": ["#FFE4C4", "#FFE4C4", "#FFA07A", "#FF0000", "#FF0000"], "interpolate": "lab"}, "legend": {"orient": "none", "legendX": 906, "legendY": 327, "direction": "vertical", "title": "St.Dev.", "titleFont": "Liberation Sans", "titleFontSize": 14, "titleFontWeight": "bold", "titleColor": "#000000", "titlePadding": 4, "gradientLength": 80, "gradientThickness": 16, "gradientStrokeWidth": 0, "labelFont": "Liberation Sans", "labelFontSize": 13, "labelColor": "#000000", "labelOffset": 3, "values": [0, 0.05, 0.1, 0.15, 0.2], "labelExpr": "format(datum.value, '.2~f')", "padding": 0}}}}
 ]}
]
}
